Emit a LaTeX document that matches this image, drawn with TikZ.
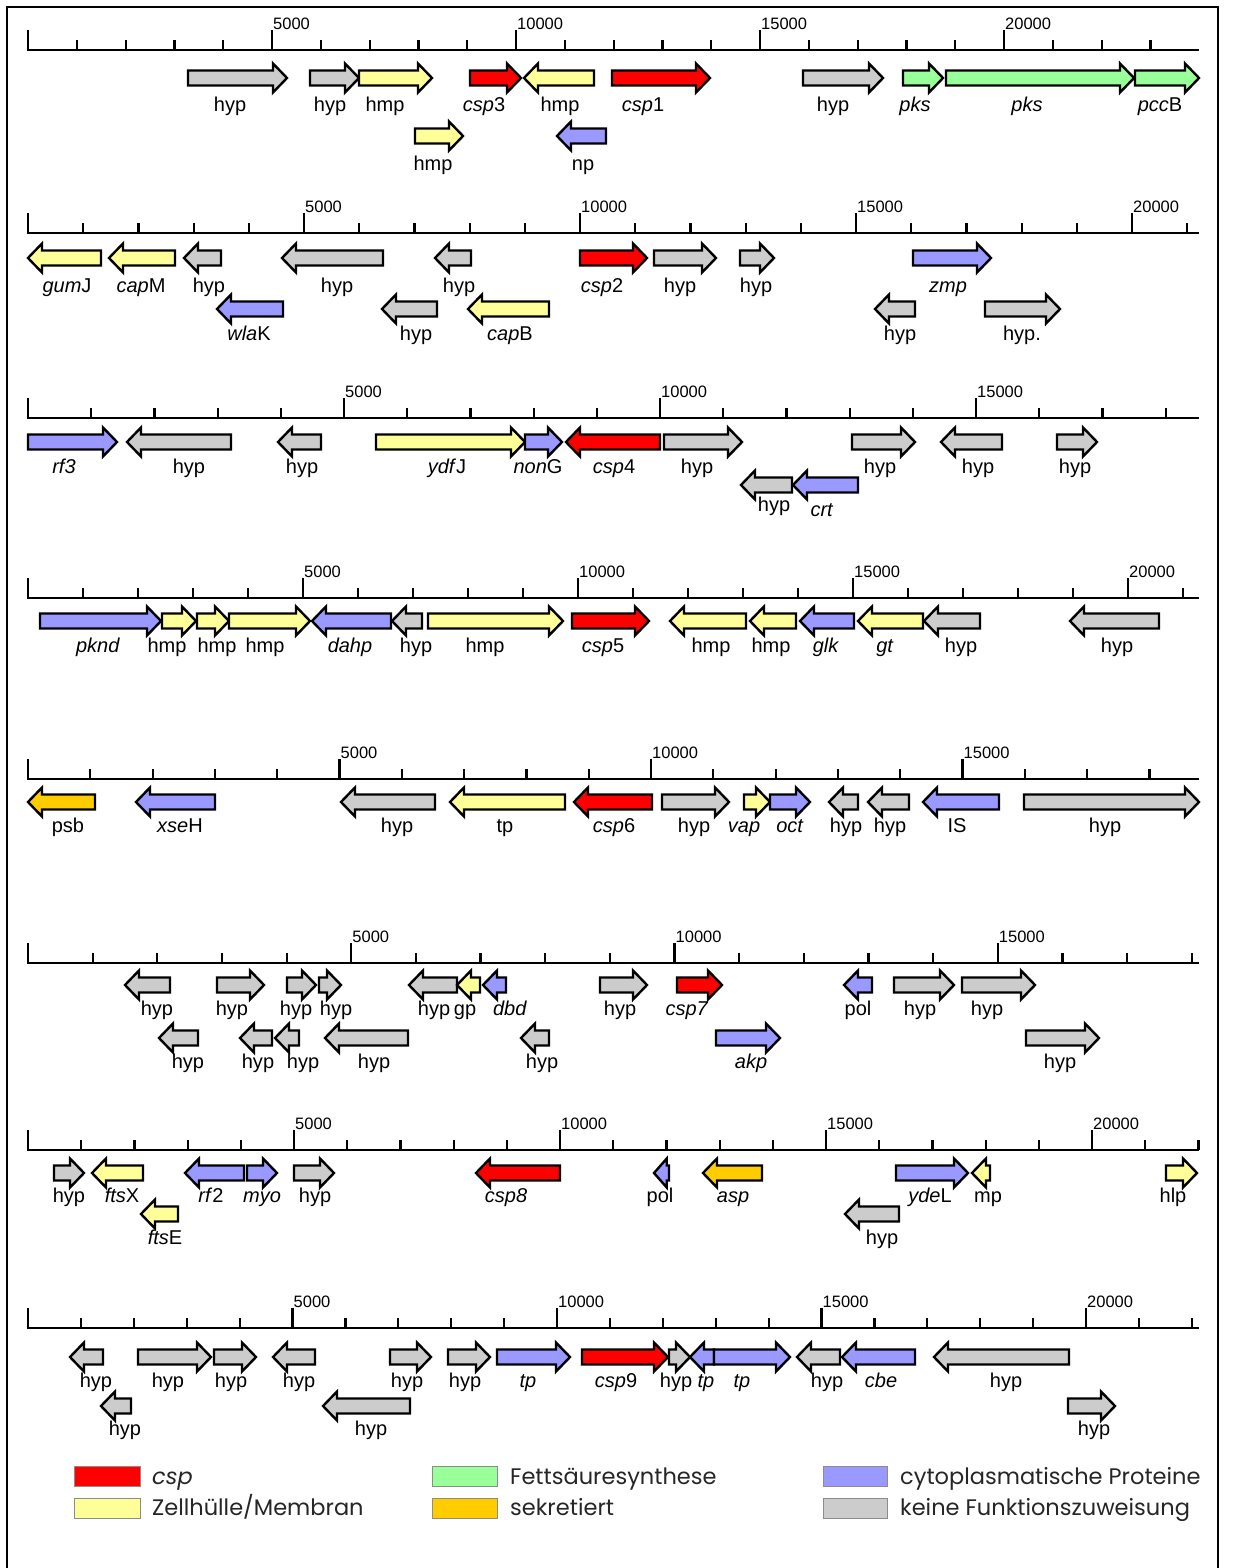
\documentclass[tikz,border=0pt]{standalone}
\usepackage{fontspec}
\setmainfont{Liberation Sans}
\newfontfamily\legfont{Poppins}
\definecolor{cspred}{HTML}{FF0000}
\definecolor{memyel}{HTML}{FFFF99}
\definecolor{fasgreen}{HTML}{99FF99}
\definecolor{secorange}{HTML}{FFCC00}
\definecolor{cytblue}{HTML}{9999FF}
\definecolor{hypgray}{HTML}{CCCCCC}
\newcounter{gc}
\tikzset{
  genebox/.style={draw=black,line width=2.4pt,line join=miter},
  glabel/.style={anchor=base,inner sep=0pt,font=\fontsize{20}{24}\selectfont},
  axisline/.style={line width=2.8pt,line cap=rect},
  tickline/.style={line width=2.2pt},
  ticklabel/.style={anchor=south west,inner sep=0pt,font=\fontsize{16.5}{18}\selectfont},
  legbox/.style={draw=black!45,line width=0.8pt},
  legtext/.style={anchor=base west,inner sep=0pt,text=black!85,font=\legfont\fontsize{22.5}{26}\selectfont}
}
% tail, tip, y, colour, label x, label y, label text
\newcommand{\gn}[7]{%
  \stepcounter{gc}%
  \pgfmathsetmacro\gs{sign(#2-#1)}%
  \pgfmathsetmacro\gl{min(14,0.85*abs(#2-#1))}%
  \pgfmathsetmacro\gb{#2-\gs*\gl}%
  \draw[genebox,fill=#4] (#1,#3-7.5) -- (\gb,#3-7.5) -- (\gb,#3-14.5) -- (#2,#3)
     -- (\gb,#3+14.5) -- (\gb,#3+7.5) -- (#1,#3+7.5) -- cycle;
  \node[glabel] (gl\arabic{gc}) at (#5,#6+6) {#7};
}
% y, px per 1000, last tick
\newcommand{\ruler}[3]{%
  \draw[axisline] (28,#1) -- (1198,#1);
  \foreach \k in {0,...,#3}{%
    \pgfmathsetmacro\tx{28+\k*#2}%
    \pgfmathtruncatemacro\mj{mod(\k,5)}%
    \ifnum\mj=0
      \draw[tickline] (\tx,#1) -- (\tx,#1-20);
      \ifnum\k>0
        \node[ticklabel] (r#1k\k) at (\tx+1,#1-20) {\the\numexpr\k*1000\relax};
      \fi
    \else
      \draw[tickline] (\tx,#1) -- (\tx,#1-10);
    \fi
  }%
}
\begin{document}
\begin{tikzpicture}[x=1pt,y=-1pt]
\useasboundingbox (0,0) rectangle (1233,1568);
\fill[white] (0,0) rectangle (1233,1568);
\draw[line width=2pt] (7,1570) -- (7,7) -- (1218,7) -- (1218,1570);

% ---------- Track 1
\ruler{50}{48.8}{23}
\gn{188}{287}{78}{hypgray}{230}{106}{hyp}
\gn{310}{359}{78}{hypgray}{330}{106}{hyp}
\gn{359}{432}{78}{memyel}{385}{106}{hmp}
\gn{415}{463}{136}{memyel}{433}{164}{hmp}
\gn{470}{521}{78}{cspred}{484}{106}{\textit{csp}3}
\gn{594}{524}{78}{memyel}{560}{106}{hmp}
\gn{606}{557}{136}{cytblue}{583}{164}{np}
\gn{612}{710}{78}{cspred}{643}{106}{\textit{csp}1}
\gn{803}{883}{78}{hypgray}{833}{106}{hyp}
\gn{903}{943}{78}{fasgreen}{915}{106}{\textit{pks}}
\gn{946}{1134}{78}{fasgreen}{1027}{106}{\textit{pks}}
\gn{1135}{1199}{78}{fasgreen}{1160}{106}{\textit{pcc}B}

% ---------- Track 2
\ruler{233}{55.2}{21}
\gn{101}{28}{258}{memyel}{67}{286}{\textit{gum}J}
\gn{175}{109}{258}{memyel}{141}{286}{\textit{cap}M}
\gn{221}{184}{258}{hypgray}{209}{286}{hyp}
\gn{383}{282}{258}{hypgray}{337}{286}{hyp}
\gn{471}{435}{258}{hypgray}{459}{286}{hyp}
\gn{580}{647}{258}{cspred}{602}{286}{\textit{csp}2}
\gn{654}{716}{258}{hypgray}{680}{286}{hyp}
\gn{740}{774}{258}{hypgray}{756}{286}{hyp}
\gn{913}{991}{258}{cytblue}{948}{286}{\textit{zmp}}
\gn{283}{217}{309}{cytblue}{249}{334}{\textit{wla}K}
\gn{437}{382}{309}{hypgray}{416}{334}{hyp}
\gn{549}{468}{309}{memyel}{510}{334}{\textit{cap}B}
\gn{915}{875}{309}{hypgray}{900}{334}{hyp}
\gn{985}{1060}{309}{hypgray}{1022}{334}{hyp.}

% ---------- Track 3
\ruler{418}{63.2}{18}
\gn{28}{117}{442}{cytblue}{64}{467}{\textit{rf3}}
\gn{231}{127}{442}{hypgray}{189}{467}{hyp}
\gn{321}{278}{442}{hypgray}{302}{467}{hyp}
\gn{376}{525}{442}{memyel}{447}{467}{\textit{ydf}J}
\gn{525}{562}{442}{cytblue}{538}{467}{\textit{non}G}
\gn{660}{566}{442}{cspred}{614}{467}{\textit{csp}4}
\gn{664}{742}{442}{hypgray}{697}{467}{hyp}
\gn{852}{915}{442}{hypgray}{880}{467}{hyp}
\gn{1002}{941}{442}{hypgray}{978}{467}{hyp}
\gn{1057}{1097}{442}{hypgray}{1075}{467}{hyp}
\gn{792}{741}{485}{hypgray}{774}{505}{hyp}
\gn{858}{793}{485}{cytblue}{822}{510}{\textit{crt}}

% ---------- Track 4
\ruler{598}{55.0}{21}
\gn{40}{161}{621}{cytblue}{98}{646}{\textit{pknd}}
\gn{162}{196}{621}{memyel}{167}{646}{hmp}
\gn{197}{229}{621}{memyel}{217}{646}{hmp}
\gn{229}{310}{621}{memyel}{265}{646}{hmp}
\gn{391}{312}{621}{cytblue}{350}{646}{\textit{dahp}}
\gn{422}{392}{621}{hypgray}{416}{646}{hyp}
\gn{428}{563}{621}{memyel}{485}{646}{hmp}
\gn{572}{649}{621}{cspred}{603}{646}{\textit{csp}5}
\gn{746}{670}{621}{memyel}{711}{646}{hmp}
\gn{796}{750}{621}{memyel}{771}{646}{hmp}
\gn{854}{800}{621}{cytblue}{826}{646}{\textit{glk}}
\gn{923}{858}{621}{memyel}{885}{646}{\textit{gt}}
\gn{980}{924}{621}{hypgray}{961}{646}{hyp}
\gn{1159}{1070}{621}{hypgray}{1117}{646}{hyp}

% ---------- Track 5
\ruler{779}{62.3}{18}
\gn{95}{28}{802}{secorange}{68}{826}{psb}
\gn{215}{136}{802}{cytblue}{180}{826}{\textit{xse}H}
\gn{435}{341}{802}{hypgray}{397}{826}{hyp}
\gn{565}{450}{802}{memyel}{505}{826}{tp}
\gn{652}{574}{802}{cspred}{614}{826}{\textit{csp}6}
\gn{662}{729}{802}{hypgray}{694}{826}{hyp}
\gn{744}{770}{802}{memyel}{744}{826}{\textit{vap}}
\gn{770}{810}{802}{cytblue}{790}{826}{\textit{oct}}
\gn{858}{829}{802}{hypgray}{846}{826}{hyp}
\gn{909}{868}{802}{hypgray}{890}{826}{hyp}
\gn{999}{923}{802}{cytblue}{957}{826}{IS}
\gn{1024}{1199}{802}{hypgray}{1105}{826}{hyp}

% ---------- Track 6
\ruler{963}{64.65}{18}
\gn{170}{125}{985}{hypgray}{157}{1009}{hyp}
\gn{217}{264}{985}{hypgray}{232}{1009}{hyp}
\gn{287}{316}{985}{hypgray}{296}{1009}{hyp}
\gn{319}{341}{985}{hypgray}{336}{1009}{hyp}
\gn{457}{409}{985}{hypgray}{434}{1009}{hyp}
\gn{480}{457}{985}{memyel}{465}{1009}{gp}
\gn{506}{483}{985}{cytblue}{510}{1009}{\textit{dbd}}
\gn{600}{647}{985}{hypgray}{620}{1009}{hyp}
\gn{677}{722}{985}{cspred}{687}{1009}{\textit{csp7}}
\gn{872}{844}{985}{cytblue}{858}{1009}{pol}
\gn{894}{954}{985}{hypgray}{920}{1009}{hyp}
\gn{962}{1035}{985}{hypgray}{987}{1009}{hyp}
\gn{198}{159}{1038}{hypgray}{188}{1062}{hyp}
\gn{272}{240}{1038}{hypgray}{258}{1062}{hyp}
\gn{299}{275}{1038}{hypgray}{303}{1062}{hyp}
\gn{408}{325}{1038}{hypgray}{374}{1062}{hyp}
\gn{549}{521}{1038}{hypgray}{542}{1062}{hyp}
\gn{716}{780}{1038}{cytblue}{751}{1062}{\textit{akp}}
\gn{1026}{1099}{1038}{hypgray}{1060}{1062}{hyp}

% ---------- Track 7
\ruler{1150}{53.2}{22}
\gn{54}{84}{1173}{hypgray}{69}{1196}{hyp}
\gn{143}{92}{1173}{memyel}{122}{1196}{\textit{fts}X}
\gn{244}{185}{1173}{cytblue}{211}{1196}{\textit{rf}2}
\gn{247}{277}{1173}{cytblue}{262}{1196}{\textit{myo}}
\gn{294}{334}{1173}{hypgray}{315}{1196}{hyp}
\gn{560}{476}{1173}{cspred}{506}{1196}{\textit{csp8}}
\gn{669}{654}{1173}{cytblue}{660}{1196}{pol}
\gn{762}{703}{1173}{secorange}{733}{1196}{\textit{asp}}
\gn{896}{968}{1173}{cytblue}{930}{1196}{\textit{yde}L}
\gn{990}{972}{1173}{memyel}{988}{1196}{mp}
\gn{1166}{1197}{1173}{memyel}{1173}{1196}{hlp}
\gn{178}{141}{1214}{memyel}{165}{1238}{\textit{fts}E}
\gn{899}{845}{1214}{hypgray}{882}{1238}{hyp}

% ---------- Track 8
\ruler{1328}{52.9}{22}
\gn{103}{70}{1357}{hypgray}{96}{1381}{hyp}
\gn{138}{211}{1357}{hypgray}{168}{1381}{hyp}
\gn{214}{256}{1357}{hypgray}{231}{1381}{hyp}
\gn{315}{273}{1357}{hypgray}{299}{1381}{hyp}
\gn{390}{431}{1357}{hypgray}{407}{1381}{hyp}
\gn{448}{490}{1357}{hypgray}{465}{1381}{hyp}
\gn{497}{570}{1357}{cytblue}{528}{1381}{\textit{tp}}
\gn{582}{668}{1357}{cspred}{616}{1381}{\textit{csp}9}
\gn{669}{690}{1357}{hypgray}{676}{1381}{hyp}
\gn{714}{690}{1357}{cytblue}{706}{1381}{\textit{tp}}
\gn{714}{790}{1357}{cytblue}{742}{1381}{\textit{tp}}
\gn{840}{797}{1357}{hypgray}{827}{1381}{hyp}
\gn{915}{842}{1357}{cytblue}{881}{1381}{\textit{cbe}}
\gn{1069}{934}{1357}{hypgray}{1006}{1381}{hyp}
\gn{131}{101}{1406}{hypgray}{125}{1429}{hyp}
\gn{410}{323}{1406}{hypgray}{371}{1429}{hyp}
\gn{1068}{1115}{1406}{hypgray}{1094}{1429}{hyp}

% ---------- Legend
\filldraw[legbox,fill=cspred] (74,1466) rectangle (140,1486);
\node[legtext] (lg1) at (152,1484) {\textit{csp}};
\filldraw[legbox,fill=memyel] (74,1498) rectangle (140,1518);
\node[legtext] (lg2) at (152,1515) {Zellhülle/Membran};
\filldraw[legbox,fill=fasgreen] (432,1466) rectangle (497,1486);
\node[legtext] (lg3) at (510,1484) {Fettsäuresynthese};
\filldraw[legbox,fill=secorange] (432,1498) rectangle (497,1518);
\node[legtext] (lg4) at (510,1515) {sekretiert};
\filldraw[legbox,fill=cytblue] (823,1466) rectangle (887,1486);
\node[legtext] (lg5) at (900,1484) {cytoplasmatische Proteine};
\filldraw[legbox,fill=hypgray] (823,1498) rectangle (887,1518);
\node[legtext] (lg6) at (900,1515) {keine Funktionszuweisung};
\end{tikzpicture}
\end{document}
